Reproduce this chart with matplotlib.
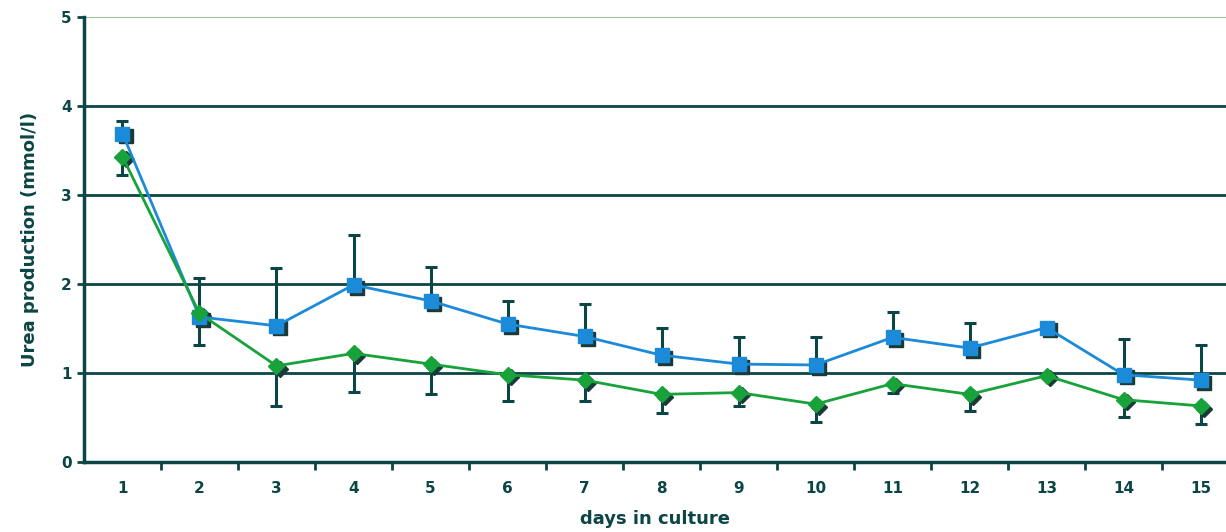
import numpy as np
import matplotlib
matplotlib.use('Agg')
import matplotlib.pyplot as plt

days = list(range(1, 16))
blue_vals = [3.69, 1.63, 1.53, 1.99, 1.81, 1.55, 1.41, 1.20, 1.10, 1.09, 1.40, 1.28, 1.51, 0.98, 0.92]
blue_err_top = [3.83, 2.07, 2.18, 2.55, 2.19, 1.81, 1.77, 1.51, 1.40, 1.40, 1.68, 1.56, 1.51, 1.38, 1.31]
green_vals = [3.43, 1.67, 1.08, 1.22, 1.10, 0.98, 0.92, 0.76, 0.78, 0.65, 0.88, 0.76, 0.97, 0.70, 0.63]
green_err_bottom = [3.22, 1.31, 0.63, 0.79, 0.76, 0.69, 0.69, 0.55, 0.63, 0.45, 0.77, 0.57, 0.97, 0.50, 0.43]
y_ticks = [0, 1, 2, 3, 4, 5]

dark = '#0c4545'
blue = '#1b8ad8'
green = '#17a23a'

plt.rcParams['font.family'] = ['DejaVu Sans']
plt.rcParams['font.weight'] = 'bold'

fig = plt.figure(figsize=(12.26, 5.32), dpi=100)
ax = fig.add_axes([0.0685, 0.1316, 0.9315, 0.8365])

x = np.array(days)
b = np.array(blue_vals)
g = np.array(green_vals)
up = np.array(blue_err_top) - b
down = g - np.array(green_err_bottom)

# gridlines
for yv in y_ticks[1:-1]:
    ax.axhline(yv, color=dark, lw=2.0, zorder=1)
ax.axhline(5, color='#9fbf9a', lw=1.5, zorder=1)

# error bars (one sided)
ax.errorbar(x, b, yerr=[np.zeros_like(up), up], fmt='none', ecolor=dark,
            elinewidth=2.2, capsize=4, capthick=2.2, zorder=2)
ax.errorbar(x, g, yerr=[down, np.zeros_like(down)], fmt='none', ecolor=dark,
            elinewidth=2.2, capsize=4, capthick=2.2, zorder=2)

# shadows for markers
ax.plot(x + 0.04, b - 0.03, 's', color='#1a3a3a', ms=10, zorder=3)
ax.plot(x + 0.04, g - 0.03, 'D', color='#1a3a3a', ms=8, zorder=3)

ax.plot(x, b, '-', color=blue, lw=2, zorder=4)
ax.plot(x, b, 's', color=blue, ms=10, zorder=5)
ax.plot(x, g, '-', color=green, lw=2, zorder=4)
ax.plot(x, g, 'D', color=green, ms=8, zorder=5)

ax.set_xlim(0.5, 15.33)
ax.set_ylim(0, 5)
ax.set_yticks(y_ticks)
ax.set_xticks(days)
ax.set_xticks(np.arange(1.5, 15.5, 1), minor=True)
ax.tick_params(axis='x', which='major', length=0, pad=14, labelsize=11, labelcolor=dark)
ax.tick_params(axis='x', which='minor', length=6, width=2, color=dark, direction='out')
ax.tick_params(axis='y', length=5, width=2, color=dark, labelsize=11, labelcolor=dark, pad=4)

for s in ['top', 'right']:
    ax.spines[s].set_visible(False)
for s in ['left', 'bottom']:
    ax.spines[s].set_color(dark)
    ax.spines[s].set_linewidth(2.5)

ax.set_xlabel('days in culture', fontsize=13, color=dark, fontweight='bold', labelpad=10)
ax.set_ylabel('Urea production (mmol/l)', fontsize=13, color=dark, fontweight='bold', labelpad=16)

fig.savefig('out.png', dpi=100)
